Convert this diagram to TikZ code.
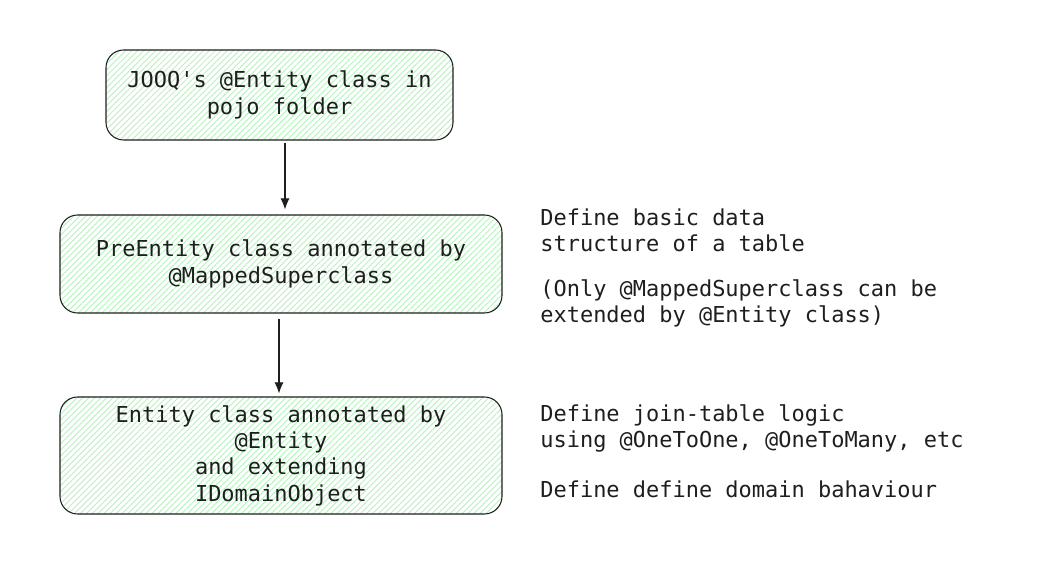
\documentclass[tikz,border=0pt]{standalone}
\usepackage{fontspec}
\setmonofont{DejaVu Sans Mono}
\usepackage{tikz}
\tikzset{>=latex}
\usetikzlibrary{arrows.meta}
\usetikzlibrary{patterns.meta}
\definecolor{hatch}{HTML}{b2f2bb}
\definecolor{ink}{HTML}{1e1e1e}

\begin{document}
\begin{tikzpicture}
            \tikzset{box/.style={draw=ink, line width=0.6pt, rounded corners=10pt, pattern={Lines[angle=45, distance=2.4pt, line width=0.5pt]}, pattern color=hatch, align=center, font=\ttfamily\fontsize{12.5}{15}\selectfont, inner sep=0pt, text=ink}}
            \tikzset{note/.style={anchor=west, align=left, font=\ttfamily\fontsize{12.5}{15}\selectfont, inner sep=0pt, text=ink}}
            \tikzset{link/.style={-{Latex[length=0.22cm, width=0.18cm]}, ink, line width=0.6pt}}
            \useasboundingbox (0, 0) rectangle (20.92, -11.64);
            \node[box, minimum width=6.94cm, minimum height=1.8cm] (jooq) at (5.59, -1.9) {JOOQ's @Entity class in\\pojo folder};
            \node[box, minimum width=8.84cm, minimum height=1.96cm] (pre) at (5.62, -5.28) {PreEntity class annotated by\\@MappedSuperclass};
            \node[box, minimum width=8.84cm, minimum height=2.34cm] (entity) at (5.62, -9.11) {Entity class annotated by\\@Entity\\and extending\\IDomainObject};
            \node[note] (basic) at (10.8, -4.6) {Define basic data\\structure of a table};
            \node[note] (only) at (10.8, -6.07) {(Only @MappedSuperclass can be\\extended by @Entity class)};
            \node[note] (join) at (10.8, -8.57) {Define join-table logic\\using @OneToOne, @OneToMany, etc};
            \node[note] (domain) at (10.8, -9.78) {Define define domain bahaviour};
            \draw[link] ([xshift=0.11cm, yshift=-0.06cm]jooq.south) -- ([xshift=0.08cm, yshift=0.1cm]pre.north);
            \draw[link] ([xshift=-0.04cm, yshift=-0.1cm]pre.south) -- ([xshift=-0.04cm, yshift=0.06cm]entity.north);
        \end{tikzpicture}
\end{document}
